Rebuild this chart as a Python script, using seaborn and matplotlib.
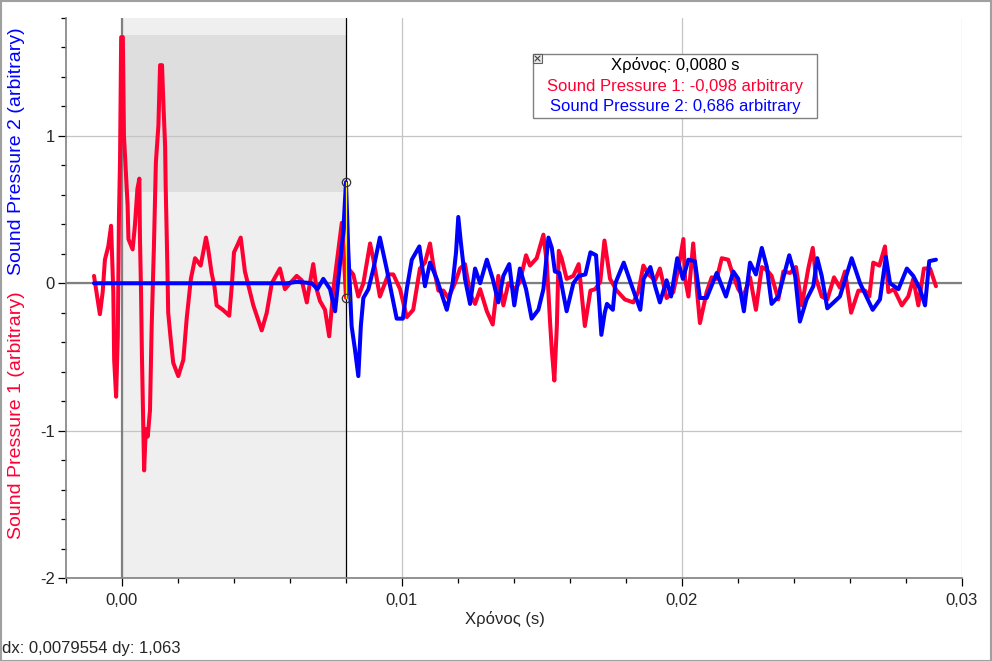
import numpy as np
import matplotlib
matplotlib.use("Agg")
import matplotlib.pyplot as plt
import seaborn as sns
from matplotlib.patches import Rectangle
from matplotlib.ticker import MultipleLocator, FixedLocator, FixedFormatter

# ---------------- data (time in ms, pressure in arbitrary units) ----------------
red_time_ms = [
    -1.00, -0.79, -0.69, -0.61, -0.49, -0.39, -0.35, -0.31, -0.28, -0.21,
    -0.15, -0.11, -0.07, -0.03, 0.03, 0.07, 0.14, 0.20, 0.23, 0.38,
    0.46, 0.55, 0.62, 0.64, 0.68, 0.71, 0.75, 0.79, 0.85, 0.92,
    1.00, 1.06, 1.14, 1.21, 1.30, 1.36, 1.43, 1.48, 1.54, 1.56,
    1.62, 1.65, 1.74, 1.83, 2.01, 2.19, 2.31, 2.46, 2.61, 2.81,
    3.00, 3.08, 3.20, 3.30, 3.38, 3.60, 3.83, 3.92, 4.00, 4.10,
    4.24, 4.39, 4.69, 4.99, 5.17, 5.35, 5.64, 5.82, 6.00, 6.24,
    6.42, 6.60, 6.71, 6.83, 6.95, 7.07, 7.25, 7.40, 7.55, 7.73,
    7.85, 7.93, 8.00, 8.08, 8.26, 8.44, 8.62, 8.86, 8.98, 9.21,
    9.51, 9.69, 9.93, 10.17, 10.40, 10.64, 10.82, 11.00, 11.12, 11.30,
    11.48, 11.65, 11.89, 12.07, 12.25, 12.43, 12.61, 12.79, 13.03, 13.24,
    13.44, 13.62, 13.80, 14.04, 14.21, 14.43, 14.57, 14.81, 15.05, 15.17,
    15.29, 15.35, 15.44, 15.53, 15.60, 15.70, 15.88, 16.12, 16.31, 16.53,
    16.73, 16.90, 17.08, 17.23, 17.43, 17.67, 17.96, 18.26, 18.44, 18.62,
    18.80, 19.04, 19.21, 19.45, 19.69, 19.87, 20.05, 20.11, 20.23, 20.40,
    20.53, 20.64, 20.88, 21.06, 21.24, 21.42, 21.65, 21.83, 22.01, 22.19,
    22.43, 22.64, 22.85, 23.03, 23.20, 23.44, 23.62, 23.86, 24.07, 24.28,
    24.51, 24.67, 24.79, 24.99, 25.19, 25.43, 25.64, 25.82, 26.04, 26.30,
    26.54, 26.69, 26.83, 27.05, 27.25, 27.37, 27.57, 27.85, 28.08, 28.26,
    28.44, 28.64, 28.86, 29.07,
]
red_pressure = [
    0.05, -0.21, -0.06, 0.16, 0.25, 0.39, 0.16, -0.06, -0.52, -0.77,
    -0.36, 0.44, 0.84, 1.67, 1.67, 1.00, 0.75, 0.53, 0.30, 0.23,
    0.39, 0.64, 0.71, 0.32, -0.06, -0.47, -0.88, -1.27, -0.99, -1.04,
    -0.86, -0.29, 0.25, 0.82, 1.07, 1.48, 1.48, 1.21, 0.93, 0.66,
    0.12, -0.20, -0.38, -0.54, -0.63, -0.52, -0.24, 0.03, 0.17, 0.12,
    0.31, 0.23, 0.07, -0.02, -0.15, -0.18, -0.22, -0.02, 0.21, 0.25,
    0.31, 0.08, -0.15, -0.32, -0.20, 0.00, 0.10, -0.04, 0.00, 0.05,
    0.02, -0.13, 0.00, 0.13, -0.04, -0.12, -0.18, -0.36, -0.04, 0.23,
    0.41, 0.16, -0.098, 0.10, 0.06, -0.09, 0.00, 0.27, 0.16, -0.09,
    0.06, 0.06, -0.04, -0.23, -0.18, 0.10, 0.14, 0.27, 0.12, -0.05,
    -0.05, -0.10, 0.00, 0.10, 0.13, -0.07, -0.14, -0.04, -0.19, -0.28,
    0.05, -0.15, 0.00, -0.04, 0.01, 0.19, 0.12, 0.17, 0.33, 0.14,
    -0.27, -0.45, -0.66, -0.29, 0.22, 0.17, 0.03, 0.05, 0.13, -0.29,
    -0.05, -0.04, 0.01, 0.29, 0.03, -0.05, -0.11, -0.13, -0.06, 0.12,
    0.06, 0.02, 0.10, -0.10, -0.06, 0.10, 0.30, 0.03, -0.09, 0.27,
    -0.04, -0.27, -0.06, 0.04, 0.03, 0.17, 0.16, 0.05, -0.04, -0.09,
    0.04, -0.18, 0.11, 0.09, 0.05, -0.11, 0.08, 0.07, 0.11, -0.15,
    0.10, 0.24, 0.03, -0.09, -0.11, 0.04, -0.03, 0.08, -0.20, -0.05,
    -0.05, -0.09, 0.14, 0.12, 0.25, -0.06, -0.04, -0.15, -0.09, 0.03,
    -0.15, 0.10, 0.10, -0.02,
]
blue_time_ms = [
    -1.00, 5.90, 6.25, 6.78, 6.98, 7.19, 7.43, 7.61, 7.79, 7.90,
    8.00, 8.08, 8.20, 8.32, 8.44, 8.53, 8.62, 8.80, 8.98, 9.21,
    9.45, 9.81, 10.03, 10.17, 10.35, 10.62, 10.82, 11.00, 11.24, 11.60,
    11.81, 11.93, 12.01, 12.10, 12.25, 12.43, 12.61, 12.79, 13.03, 13.24,
    13.44, 13.62, 13.83, 14.01, 14.21, 14.43, 14.63, 14.87, 15.05, 15.23,
    15.35, 15.46, 15.62, 15.88, 16.12, 16.31, 16.55, 16.73, 16.93, 17.03,
    17.12, 17.24, 17.32, 17.53, 17.62, 17.92, 18.21, 18.51, 18.63, 18.87,
    19.04, 19.21, 19.45, 19.61, 19.83, 20.03, 20.23, 20.46, 20.64, 20.88,
    21.24, 21.57, 21.83, 22.01, 22.21, 22.43, 22.64, 22.85, 23.03, 23.20,
    23.44, 23.83, 24.04, 24.21, 24.45, 24.69, 24.83, 24.99, 25.19, 25.64,
    26.06, 26.36, 26.81, 27.07, 27.28, 27.43, 27.73, 28.03, 28.26, 28.50,
    28.68, 28.83, 29.07,
]
blue_pressure = [
    0.00, 0.00, 0.01, 0.00, -0.04, 0.03, -0.04, -0.19, 0.14, 0.34,
    0.686, 0.23, -0.29, -0.45, -0.63, -0.29, -0.10, -0.04, 0.10, 0.31,
    0.10, -0.24, -0.24, -0.04, 0.16, 0.25, -0.02, 0.14, 0.03, -0.18,
    0.00, 0.21, 0.45, 0.28, 0.03, -0.14, 0.10, 0.00, 0.16, 0.03,
    -0.13, 0.05, 0.13, -0.15, 0.10, -0.04, -0.24, -0.18, -0.04, 0.31,
    0.24, 0.08, 0.07, -0.19, 0.00, 0.05, 0.06, 0.21, 0.19, -0.09,
    -0.35, -0.20, -0.14, -0.18, 0.00, 0.14, -0.02, -0.18, 0.03, 0.11,
    -0.02, -0.13, 0.02, -0.09, 0.17, 0.03, 0.16, 0.15, -0.10, -0.10,
    0.07, -0.09, 0.08, 0.03, -0.19, 0.14, 0.06, 0.24, 0.11, -0.14,
    -0.09, 0.19, 0.05, -0.26, -0.11, -0.02, 0.17, 0.05, -0.17, -0.09,
    0.17, 0.00, -0.18, -0.11, 0.18, 0.00, -0.04, 0.10, 0.05, -0.04,
    -0.15, 0.15, 0.16,
]

x_ticks = [0.00, 0.01, 0.02, 0.03]
x_tick_labels = ["0,00", "0,01", "0,02", "0,03"]
y_ticks = [-2, -1, 0, 1]
y_tick_labels = ["-2", "-1", "0", "1"]

# selection / cursor
sel_start, sel_end = 0.0, 0.008
sel_y_low, sel_y_high = 0.620, 1.683
cursor_time = 0.008
cursor_red = -0.098
cursor_blue = 0.686

RED = "#ff0033"
BLUE = "#0000ff"

sns.set_style("white")
plt.rcParams["font.family"] = ["Liberation Sans", "DejaVu Sans"]

FS = 12

df_red = {"t": np.array(red_time_ms) / 1000.0, "p": np.array(red_pressure)}
df_blue = {"t": np.array(blue_time_ms) / 1000.0, "p": np.array(blue_pressure)}

fig = plt.figure(figsize=(9.92, 6.61), dpi=100)
W, H = 992, 661
ax = fig.add_axes([66 / W, 1 - 578 / H, 896 / W, 560 / H])
ax.set_facecolor("white")

# shading
ax.axvspan(sel_start, sel_end, color="#efefef", zorder=0.1, lw=0)
ax.add_patch(Rectangle((sel_start, sel_y_low), sel_end - sel_start, sel_y_high - sel_y_low,
                       facecolor="#dedede", edgecolor="none", zorder=0.2))

# grid
ax.set_axisbelow(True)
ax.grid(True, which="major", color="#c4c4c4", lw=0.9)
ax.axhline(0, color="#808080", lw=1.6, zorder=1.2)
ax.axvline(0, color="#808080", lw=1.6, zorder=1.2)
ax.axvline(cursor_time, color="black", lw=0.9, zorder=1.3)

sns.lineplot(x=df_red["t"], y=df_red["p"], color=RED, lw=2.9, ax=ax, zorder=2,
             estimator=None, sort=False)
sns.lineplot(x=df_blue["t"], y=df_blue["p"], color=BLUE, lw=2.9, ax=ax, zorder=3,
             estimator=None, sort=False)

# cursor markers
ax.plot([cursor_time, cursor_time], [cursor_red, cursor_blue], color="#ffee00", lw=0.9, zorder=4)
ax.plot([cursor_time, cursor_time], [cursor_red, cursor_blue], "o", ms=6, mfc="none",
        mec="#333333", mew=0.9, zorder=5)

ax.set_xlim(-0.002, 0.03)
ax.set_ylim(-2, 1.8)

ax.xaxis.set_major_locator(FixedLocator(x_ticks))
ax.xaxis.set_major_formatter(FixedFormatter(x_tick_labels))
ax.yaxis.set_major_locator(FixedLocator(y_ticks))
ax.yaxis.set_major_formatter(FixedFormatter(y_tick_labels))
ax.xaxis.set_minor_locator(MultipleLocator(0.002))
ax.yaxis.set_minor_locator(MultipleLocator(0.2))

ax.tick_params(which="major", direction="out", length=6, width=0.9, color="black",
               labelsize=FS, bottom=True, left=True)
ax.tick_params(axis="x", which="major", pad=5)
ax.tick_params(axis="y", which="major", pad=2)
ax.tick_params(which="minor", direction="out", length=3.5, width=0.9, color="black",
               bottom=True, left=True)

for s in ["top", "right"]:
    ax.spines[s].set_visible(False)
for s in ["left", "bottom"]:
    ax.spines[s].set_color("#808080")
    ax.spines[s].set_linewidth(1.2)
ax.set_xlabel("")
ax.set_ylabel("")

# axis labels
fig.text(505 / W, 1 - 619 / H, "Χρόνος (s)", ha="center", va="center", fontsize=FS)
fig.text(17 / W, 1 - 415 / H, "Sound Pressure 1 (arbitrary)", rotation=90,
         ha="center", va="center", fontsize=14, color=RED)
fig.text(17 / W, 1 - 151 / H, "Sound Pressure 2 (arbitrary)", rotation=90,
         ha="center", va="center", fontsize=14, color=BLUE)

# info box
fig.patches.append(Rectangle((533 / W, 1 - 118 / H), 284 / W, 64 / H, transform=fig.transFigure,
                             facecolor="white", edgecolor="#808080", lw=1.0, zorder=10))
fig.patches.append(Rectangle((533 / W, 1 - 63 / H), 9 / W, 9 / H, transform=fig.transFigure,
                             facecolor="#e8e8e8", edgecolor="#606060", lw=0.8, zorder=11))
fig.lines.append(plt.Line2D([535 / W, 540 / W], [1 - 61 / H, 1 - 56 / H], transform=fig.transFigure,
                            color="#404040", lw=0.8, zorder=12))
fig.lines.append(plt.Line2D([535 / W, 540 / W], [1 - 56 / H, 1 - 61 / H], transform=fig.transFigure,
                            color="#404040", lw=0.8, zorder=12))
fig.text(675 / W, 1 - 65 / H, "Χρόνος: 0,0080 s", ha="center", va="center",
         fontsize=FS, color="black", zorder=12)
fig.text(675 / W, 1 - 86.5 / H, "Sound Pressure 1: -0,098 arbitrary", ha="center", va="center",
         fontsize=FS, color=RED, zorder=12)
fig.text(675 / W, 1 - 106.5 / H, "Sound Pressure 2: 0,686 arbitrary", ha="center", va="center",
         fontsize=FS, color=BLUE, zorder=12)

# status text
fig.text(2 / W, 1 - 648 / H, "dx: 0,0079554 dy: 1,063", ha="left", va="center", fontsize=FS)

# figure border
fig.patches.append(Rectangle((0.5 / W, 0.5 / H), 1 - 1.5 / W, 1 - 1.5 / H, transform=fig.transFigure,
                             facecolor="none", edgecolor="#a0a0a0", lw=1.5, zorder=20))

fig.savefig("out.png", dpi=100)
